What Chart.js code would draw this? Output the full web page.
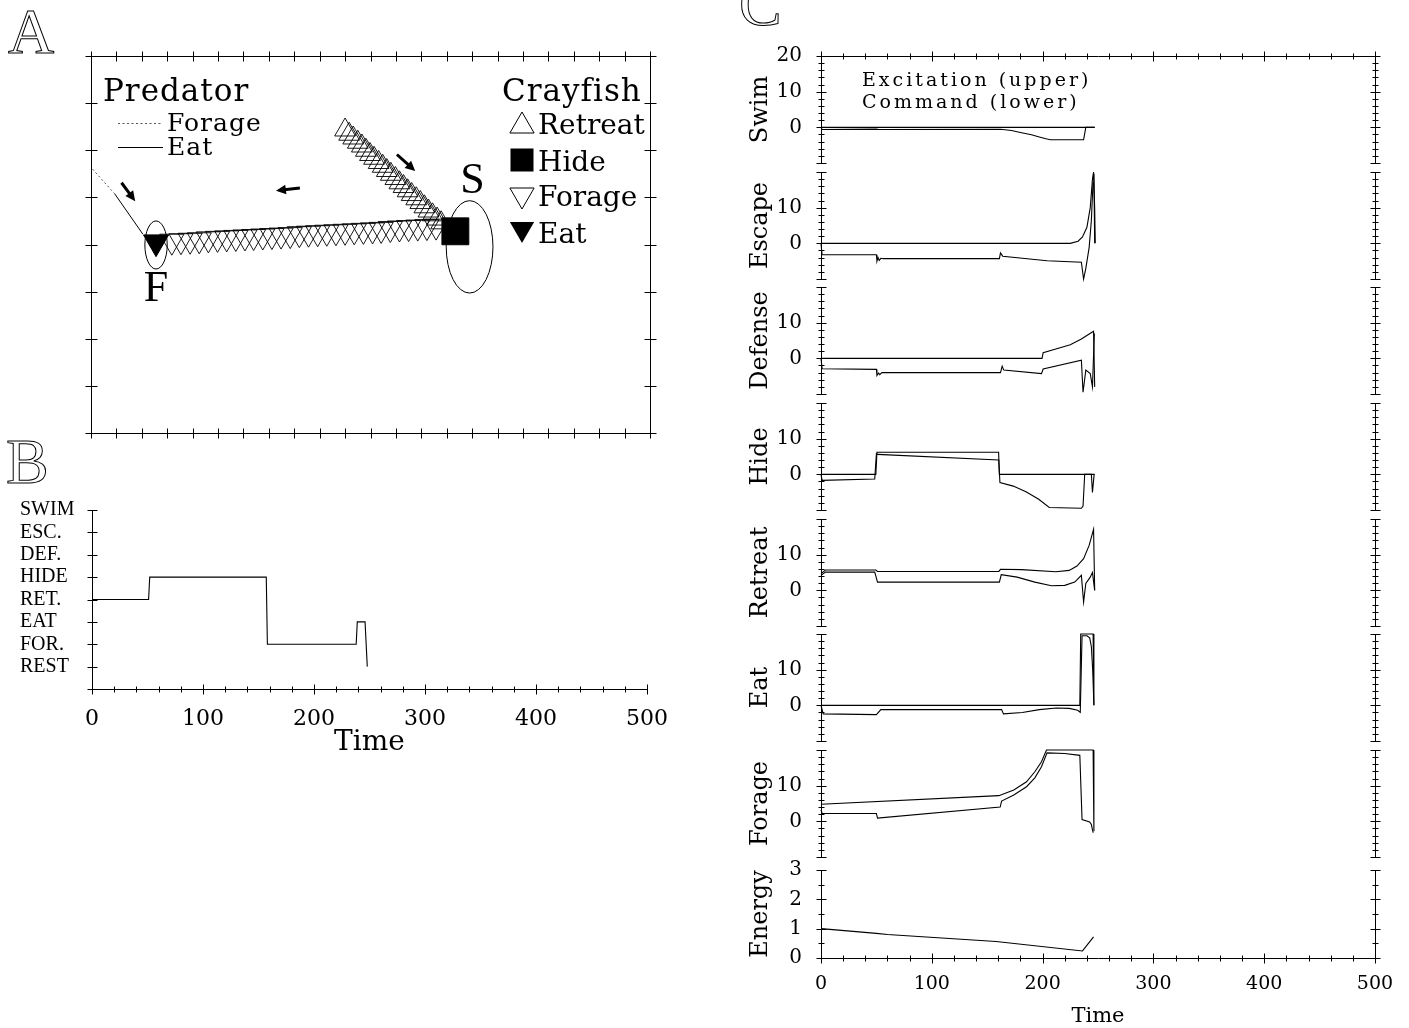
<!DOCTYPE html>
<html>
<head>
<meta charset="utf-8">
<title>Crayfish behaviour simulation</title>
<script src="https://cdn.jsdelivr.net/npm/chart.js@4.4.1/dist/chart.umd.min.js"></script>
<style>
  body { margin: 0; background: #fff; }
  #page { position: relative; width: 1409px; height: 1028px; overflow: hidden; background: #fff; }
  #page canvas { position: absolute; }
  .tag { position: absolute; font: 64px/1 'Liberation Serif', serif; color: #fff; -webkit-text-stroke: 1px #000; }
</style>
</head>
<body>
<div id="page">
  <div class="tag" style="left:8px;top:0px">A</div>
  <div class="tag" style="left:6px;top:430px">B</div>
  <div class="tag" style="left:739px;top:-28px">C</div>
</div>
<script>
// ---- A: arena track (x 0-110, y 0-80 arena units)
const retreatX = [50.0, 50.8, 51.6, 52.5, 53.3, 54.1, 54.9, 55.7, 56.6, 57.4, 58.2, 59.0, 59.9, 60.7, 61.5, 62.3, 63.1, 64.0, 64.8, 65.6, 66.4, 67.2, 68.1, 68.9];
const retreatY = [64.3, 63.4, 62.6, 61.7, 60.9, 60.0, 59.1, 58.3, 57.4, 56.6, 55.7, 54.9, 54.0, 53.1, 52.3, 51.4, 50.6, 49.7, 48.9, 48.0, 47.1, 46.3, 45.4, 44.6];
const forageX = [67.9, 66.1, 64.3, 62.5, 60.7, 58.9, 57.1, 55.4, 53.6, 51.8, 50.0, 48.2, 46.4, 44.6, 42.8, 41.0, 39.2, 37.4, 35.6, 33.8, 32.0, 30.3, 28.5, 26.7, 24.9, 23.1, 21.3, 19.5, 17.7, 15.9];
const forageY = [43.9, 43.8, 43.7, 43.6, 43.5, 43.4, 43.2, 43.1, 43.0, 42.9, 42.8, 42.7, 42.6, 42.5, 42.4, 42.3, 42.1, 42.0, 41.9, 41.8, 41.7, 41.6, 41.5, 41.4, 41.3, 41.2, 41.0, 40.9, 40.8, 40.7];
const hideX = [71.7];
const hideY = [42.8];
const eatX = [12.8];
const eatY = [40.5];
const predForageX = [0.3, 4.7];
const predForageY = [56.0, 50.7];
const predEatX = [4.7, 10.2];
const predEatY = [50.7, 42.2];
const siteNames = ['F', 'S'];
const siteX = [12.8, 74.5];
const siteY = [39.9, 39.5];
const siteRX = [2.2, 4.6];
const siteRY = [5.1, 9.8];
const arrowX0 = [6.0, 60.2, 41.1];
const arrowY0 = [53.1, 59.1, 52.0];
const arrowX1 = [8.7, 63.8, 36.4];
const arrowY1 = [49.2, 55.6, 51.4];

// ---- B: selected behaviour over time
const behaviourNames = ['REST', 'FOR.', 'EAT', 'RET.', 'HIDE', 'DEF.', 'ESC.', 'SWIM'];
const behaviourT = [0, 51, 52, 157, 158, 238, 239, 246, 248];
const behaviourLevel = [3, 3, 4, 4, 1, 1, 2, 2, 0];

// ---- C: excitation (upper) and command (lower) traces
const swimExcT = [0, 247];
const swimExc = [0, 0];
const swimCmdT = [0, 1, 50, 52, 162, 172, 181, 190, 197, 203, 207, 237, 239, 247];
const swimCmd = [0, -0.6, -0.5, -0.6, -0.55, -0.9, -1.5, -2.1, -2.7, -3.2, -3.5, -3.5, 0, 0];

const escExcT = [0, 225, 232, 236, 240, 243, 245, 246, 247, 247.5];
const escExc = [0, 0, 0.6, 1.8, 4.5, 10, 18, 20, 10, 0];
const escCmdT = [0, 1, 50, 50.5, 51.5, 52.5, 54, 56, 161, 162, 164, 204, 235, 237, 239, 242, 244, 245.5, 246.3, 247];
const escCmd = [0, -3.2, -3.2, -5, -4, -4.8, -4.2, -4.3, -4.3, -2.7, -3.6, -4.9, -5.3, -10, -7, -1.2, 6.4, 17, 19.5, 0];

const defExcT = [0, 199.5, 200.5, 215, 225, 235, 241, 246, 247];
const defExc = [0, 0, 1.6, 2.9, 3.8, 5.4, 6.6, 7.6, -8];
const defCmdT = [0, 1, 50, 50.5, 52, 53, 55, 162, 163.5, 165, 199, 200.5, 235, 236.5, 239, 243, 245, 246.7];
const defCmd = [0, -2.9, -3.1, -4.8, -4.1, -4.6, -4, -4, -2.2, -3.3, -4.3, -3, -0.5, -9.5, -3.3, -4.3, -8, 7];

const hideExcT = [0, 49.5, 50.5, 160.3, 161, 247];
const hideExc = [0, 0, 6.2, 6.2, 0, 0];
const hideCmdT = [0, 1, 48.5, 50, 51, 160.4, 161.5, 173.5, 185, 196.5, 206, 235, 236.5, 238, 244, 245, 246.5];
const hideCmd = [0, -1.7, -1.3, 5.8, 5.6, 4, -2.3, -3.3, -4.9, -7, -9.3, -9.5, -8.9, 0, 0, -5.1, 0];

const retExcT = [0, 4, 49.5, 51, 160.5, 162, 181, 212, 224, 231, 237, 242, 246, 247];
const retExc = [4.7, 5.7, 5.7, 5.3, 5.3, 5.9, 5.8, 5.2, 5.6, 6.8, 8.9, 12.6, 17.1, 0];
const retCmdT = [0, 4, 48.5, 51, 161, 162.7, 177, 193, 208, 220, 229, 235, 237, 239, 243, 245, 247];
const retCmd = [4.2, 5.1, 5.1, 2.3, 2.3, 4.4, 3.7, 2.3, 1.3, 1.4, 2.3, 4.2, -3.3, 1.9, 3.7, 5, 0];

const eatExcT = [0, 233.6, 234.4, 245.6, 246.3];
const eatExc = [0, 0, 20, 20, 0];
const eatCmdT = [0, 2, 50, 54, 163, 164.7, 181.7, 197, 212.5, 224, 231.7, 234, 235.6, 240, 242.5, 244, 245.2, 246.3];
const eatCmd = [0, -2.4, -2.6, -1.2, -1.2, -2.4, -2, -1.2, -0.75, -0.85, -1.4, -2, 19.5, 19.5, 18.9, 16.5, 10, 0];

const forExcT = [0, 160.5, 174, 185.5, 193, 199, 203.5, 245.6, 246.3];
const forExc = [4.8, 7.2, 8.8, 11.1, 13.9, 16.7, 20, 20, -2.8];
const forCmdT = [0, 1, 50, 51, 161.7, 163, 174, 185.5, 193, 199, 204, 220, 233.6, 235.6, 242.5, 244, 245.6];
const forCmd = [3.2, 2.2, 2.2, 0.9, 4, 5.7, 7.4, 9.7, 12.2, 15.3, 19.2, 19, 18.5, 0.5, -0.2, -0.9, -3.2];

const energyT = [0, 50, 60, 158, 236, 246];
const energy = [1.0, 0.84, 0.8, 0.56, 0.24, 0.72];

Chart.defaults.font.family = "'DejaVu Serif', serif";
Chart.defaults.color = '#000';
Chart.defaults.animation = false;

function pts(xs, ys) {
	return xs.map(function(x, i) { return { x: x, y: ys[i] }; });
}

function makeCanvas(left, top, w, h) {
	var c = document.createElement('canvas');
	c.width = w;
	c.height = h;
	c.style.left = left + 'px';
	c.style.top = top + 'px';
	document.getElementById('page').appendChild(c);
	return c.getContext('2d');
}

// axis lines with ticks crossing both sides
const frameTicks = {
	id: 'frameTicks',
	afterDatasetsDraw(chart, args, opts) {
		const { ctx, chartArea: a, scales } = chart;
		const px = v => Math.round(v) + 0.5;
		ctx.save();
		ctx.strokeStyle = '#000';
		ctx.lineWidth = 1;
		ctx.beginPath();
		(opts.sides || []).forEach(s => {
			const horiz = s.side === 'top' || s.side === 'bottom';
			const sc = horiz ? scales.x : scales.y;
			const at = px(a[s.side]);
			if (horiz) { ctx.moveTo(a.left, at); ctx.lineTo(a.right + 1, at); }
			else { ctx.moveTo(at, a.top); ctx.lineTo(at, a.bottom + 1); }
			const n = Math.round((sc.max - sc.min) / s.step);
			for (let k = 0; k <= n; k++) {
				const v = sc.min + k * s.step;
				const p = px(sc.getPixelForValue(v));
				const r = v / s.major;
				const len = Math.abs(r - Math.round(r)) < 1e-6 ? s.big : s.small;
				if (horiz) { ctx.moveTo(p, at - len); ctx.lineTo(p, at + len); }
				else { ctx.moveTo(at - len, p); ctx.lineTo(at + len, p); }
			}
		});
		ctx.stroke();
		ctx.restore();
	}
};

function triangle(ctx, cx, cy, r, down) {
	const s = down ? -1 : 1;
	ctx.beginPath();
	ctx.moveTo(cx, cy - s * r);
	ctx.lineTo(cx + r * 0.866, cy + s * r / 2);
	ctx.lineTo(cx - r * 0.866, cy + s * r / 2);
	ctx.closePath();
}

// sites, arrows and the two legends of the arena
const arenaDecor = {
	id: 'arenaDecor',
	afterDatasetsDraw(chart) {
		const { ctx, chartArea: a, scales: { x, y } } = chart;
		ctx.save();
		ctx.strokeStyle = '#000';
		ctx.fillStyle = '#000';
		ctx.lineWidth = 1;

		siteNames.forEach((name, i) => {
			const cx = x.getPixelForValue(siteX[i]);
			const cy = y.getPixelForValue(siteY[i]);
			const rx = Math.abs(x.getPixelForValue(siteX[i] + siteRX[i]) - cx);
			const ry = Math.abs(y.getPixelForValue(siteY[i] + siteRY[i]) - cy);
			ctx.beginPath();
			ctx.ellipse(cx, cy, rx, ry, 0, 0, Math.PI * 2);
			ctx.stroke();
			ctx.font = "44px 'Liberation Serif'";
			ctx.textAlign = 'center';
			if (i === 0) ctx.fillText(name, cx, cy + ry + 32);
			else ctx.fillText(name, cx + 3, cy - ry - 8);
		});

		arrowX0.forEach((_, i) => {
			const x0 = x.getPixelForValue(arrowX0[i]), y0 = y.getPixelForValue(arrowY0[i]);
			const x1 = x.getPixelForValue(arrowX1[i]), y1 = y.getPixelForValue(arrowY1[i]);
			const ang = Math.atan2(y1 - y0, x1 - x0);
			ctx.lineWidth = 3;
			ctx.beginPath();
			ctx.moveTo(x0, y0);
			ctx.lineTo(x1 - 6 * Math.cos(ang), y1 - 6 * Math.sin(ang));
			ctx.stroke();
			ctx.beginPath();
			ctx.moveTo(x1, y1);
			ctx.lineTo(x1 - 11 * Math.cos(ang - 0.45), y1 - 11 * Math.sin(ang - 0.45));
			ctx.lineTo(x1 - 11 * Math.cos(ang + 0.45), y1 - 11 * Math.sin(ang + 0.45));
			ctx.closePath();
			ctx.fill();
		});

		// predator legend
		const L = a.left, T = a.top;
		ctx.textAlign = 'left';
		ctx.letterSpacing = '1px';
		ctx.font = "31px 'DejaVu Serif'";
		ctx.fillText('Predator', L + 12, T + 45);
		ctx.fillText('Crayfish', L + 411, T + 45);
		ctx.font = "25px 'DejaVu Serif'";
		ctx.fillText('Forage', L + 76, T + 75);
		ctx.fillText('Eat', L + 76, T + 99);
		ctx.lineWidth = 1;
		ctx.strokeStyle = '#555';
		ctx.setLineDash([2, 2.5]);
		ctx.beginPath();
		ctx.moveTo(L + 27, T + 67.5);
		ctx.lineTo(L + 72, T + 67.5);
		ctx.stroke();
		ctx.setLineDash([]);
		ctx.strokeStyle = '#000';
		ctx.beginPath();
		ctx.moveTo(L + 27, T + 91.5);
		ctx.lineTo(L + 72, T + 91.5);
		ctx.stroke();

		// crayfish legend
		ctx.letterSpacing = '0px';
		ctx.font = "28px 'DejaVu Serif'";
		const sx = L + 431;
		triangle(ctx, sx, T + 70, 14, false);
		ctx.stroke();
		ctx.fillRect(sx - 11.5, T + 92.5, 23, 23);
		triangle(ctx, sx, T + 139, 14, true);
		ctx.stroke();
		triangle(ctx, sx, T + 173, 14, true);
		ctx.fill();
		ctx.fillText('Retreat', L + 447, T + 78);
		ctx.fillText('Hide', L + 447, T + 115);
		ctx.fillText('Forage', L + 447, T + 150);
		ctx.fillText('Eat', L + 447, T + 187);
		ctx.restore();
	}
};

// ---- panel A
new Chart(makeCanvas(0, 0, 700, 460), {
	type: 'scatter',
	data: {
		datasets: [
			{ data: pts(hideX, hideY), pointStyle: 'rect', pointRadius: 19, pointBackgroundColor: '#000', pointBorderColor: '#000', pointBorderWidth: 1 },
			{ data: pts(eatX, eatY), pointStyle: 'triangle', pointRotation: 180, pointRadius: 14.5, pointBackgroundColor: '#000', pointBorderColor: '#000', pointBorderWidth: 1 },
			{ data: pts(forageX, forageY), pointStyle: 'triangle', pointRotation: 180, pointRadius: 14, pointBackgroundColor: 'rgba(0,0,0,0)', pointBorderColor: '#000', pointBorderWidth: 0.9 },
			{ data: pts(retreatX, retreatY), pointStyle: 'triangle', pointRadius: 12, pointBackgroundColor: 'rgba(0,0,0,0)', pointBorderColor: '#000', pointBorderWidth: 0.9 },
			{ data: pts(predEatX, predEatY), showLine: true, pointRadius: 0, borderColor: '#000', borderWidth: 1 },
			{ data: pts(predForageX, predForageY), showLine: true, pointRadius: 0, borderColor: '#555', borderWidth: 1, borderDash: [2, 2.5] }
		]
	},
	options: {
		responsive: false,
		layout: { padding: { left: 91, top: 56, right: 50, bottom: 27 } },
		scales: {
			x: { type: 'linear', min: 0, max: 110, display: false },
			y: { type: 'linear', min: 0, max: 80, display: false }
		},
		plugins: {
			legend: { display: false },
			tooltip: { enabled: false },
			frameTicks: { sides: [
				{ side: 'top', step: 5, major: 5, big: 5, small: 5 },
				{ side: 'bottom', step: 5, major: 5, big: 5, small: 5 },
				{ side: 'left', step: 10, major: 10, big: 6, small: 6 },
				{ side: 'right', step: 10, major: 10, big: 6, small: 6 }
			] }
		}
	},
	plugins: [frameTicks, arenaDecor]
});

// ---- panel B
new Chart(makeCanvas(0, 490, 720, 280), {
	type: 'scatter',
	data: {
		datasets: [{ data: pts(behaviourT, behaviourLevel), showLine: true, pointRadius: 0, borderColor: '#000', borderWidth: 1.1 }]
	},
	options: {
		responsive: false,
		layout: { padding: { left: 20, top: 20, right: 73, bottom: 1 } },
		scales: {
			x: {
				type: 'linear', min: 0, max: 500,
				grid: { display: false }, border: { display: false },
				ticks: { stepSize: 100, padding: 9, autoSkip: false, maxRotation: 0, font: { size: 22 } },
				title: { display: true, text: 'Time', font: { size: 28 }, padding: { top: 0, bottom: 9 } },
				afterFit: s => { s.height = 80; }
			},
			y: {
				type: 'linear', min: -1, max: 7,
				grid: { display: false }, border: { display: false },
				ticks: {
					stepSize: 1, crossAlign: 'far', autoSkip: false,
					font: { family: "'Liberation Serif', serif", size: 20 },
					callback: v => behaviourNames[v] || ''
				},
				afterFit: s => { s.width = 72; }
			}
		},
		plugins: {
			legend: { display: false },
			tooltip: { enabled: false },
			frameTicks: { sides: [
				{ side: 'left', step: 1, major: 1, big: 5, small: 5 },
				{ side: 'bottom', step: 20, major: 100, big: 5, small: 3 }
			] }
		}
	},
	plugins: [frameTicks]
});

// ---- panel C
const traceNote = {
	id: 'traceNote',
	afterDatasetsDraw(chart) {
		const { ctx, chartArea: a } = chart;
		ctx.save();
		ctx.fillStyle = '#000';
		ctx.font = "19px 'DejaVu Serif'";
		ctx.letterSpacing = '3px';
		ctx.textAlign = 'left';
		ctx.fillText('Excitation (upper)', a.left + 41, a.top + 30);
		ctx.fillText('Command (lower)', a.left + 41, a.top + 52);
		ctx.restore();
	}
};

function traceChart(name, top, height, yMin, yMax, yStep, ySide, series, withTop, withTime) {
	// room for the half-height end labels plus their padding
	const padTop = 26;
	const padBottom = withTime ? 0 : 26;
	const h = height + padTop + (withTime ? 72 : 26);
	const sides = [
		Object.assign({ side: 'left' }, ySide),
		Object.assign({ side: 'right' }, ySide)
	];
	if (withTop) sides.push({ side: 'top', step: 20, major: 100, big: 5, small: 3 });
	if (withTime) sides.push({ side: 'bottom', step: 20, major: 100, big: 5, small: 3 });

	const xScale = {
		type: 'linear', min: 0, max: 500, display: withTime,
		grid: { display: false }, border: { display: false },
		ticks: { stepSize: 100, padding: 7, autoSkip: false, maxRotation: 0, font: { size: 19 } },
		title: { display: true, text: 'Time', font: { size: 21 }, padding: { top: 0, bottom: 1 } }
	};
	if (withTime) xScale.afterFit = s => { s.height = 72; };

	new Chart(makeCanvas(740, top - padTop, 700, h), {
		type: 'scatter',
		data: {
			datasets: series.map(s => ({
				data: pts(s[0], s[1]), showLine: true, pointRadius: 0,
				borderColor: '#000', borderWidth: 1.1, clip: 3
			}))
		},
		options: {
			responsive: false,
			layout: { padding: { left: 0, top: padTop, right: 65, bottom: padBottom } },
			scales: {
				x: xScale,
				y: {
					type: 'linear', min: yMin, max: yMax,
					grid: { display: false }, border: { display: false },
					ticks: {
						stepSize: yStep, padding: 11, autoSkip: false, font: { size: 20 },
						callback: v => (v < 0 || (v === 20 && !withTop)) ? '' : v
					},
					title: { display: true, text: name, font: { size: 24 }, padding: { top: 6, bottom: 0 } },
					afterFit: s => { s.width = 81; }
				}
			},
			plugins: {
				legend: { display: false },
				tooltip: { enabled: false },
				frameTicks: { sides: sides }
			}
		},
		plugins: withTop ? [frameTicks, traceNote] : [frameTicks]
	});
}

const commandTicks = { step: 2, major: 10, big: 5, small: 3 };
const traceTops = [56, 172, 287, 403, 519, 634, 750];
const traces = [
	['Swim', [[swimExcT, swimExc], [swimCmdT, swimCmd]]],
	['Escape', [[escExcT, escExc], [escCmdT, escCmd]]],
	['Defense', [[defExcT, defExc], [defCmdT, defCmd]]],
	['Hide', [[hideExcT, hideExc], [hideCmdT, hideCmd]]],
	['Retreat', [[retExcT, retExc], [retCmdT, retCmd]]],
	['Eat', [[eatExcT, eatExc], [eatCmdT, eatCmd]]],
	['Forage', [[forExcT, forExc], [forCmdT, forCmd]]]
];

traces.forEach((t, i) => {
	traceChart(t[0], traceTops[i], 107, -10, 20, 10, commandTicks, t[1], i === 0, false);
});

traceChart('Energy', 870, 88, 0, 3, 1, { step: 0.5, major: 1, big: 5, small: 3 },
	[[energyT, energy]], false, true);
</script>
</body>
</html>
